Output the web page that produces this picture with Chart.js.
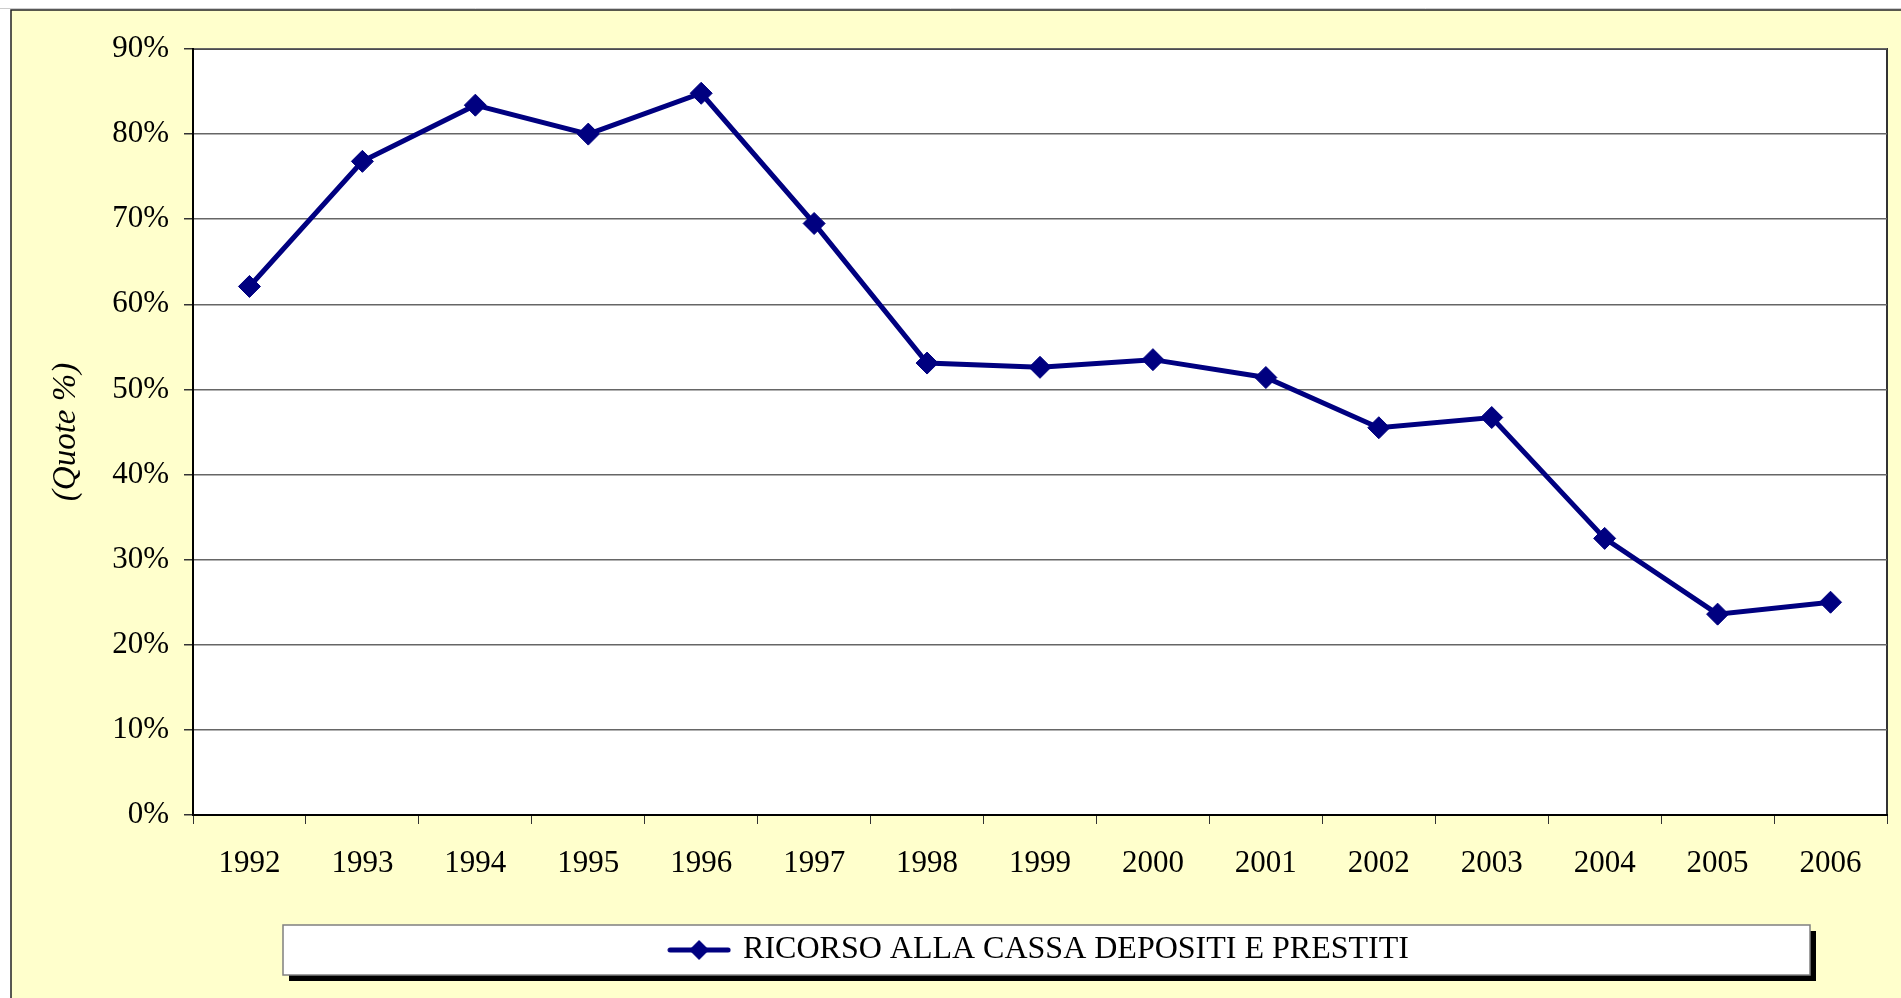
<!DOCTYPE html>
<html>
<head>
<meta charset="utf-8">
<script src="https://cdn.jsdelivr.net/npm/chart.js"></script>
<style>
  body { margin: 0; background: #fff; }
  canvas { display: block; }
</style>
</head>
<body>
<canvas id="graficoCassa" width="1901" height="998"></canvas>
<script>
// dati
let anni = ['1992','1993','1994','1995','1996','1997','1998','1999','2000','2001','2002','2003','2004','2005','2006']
let quote = [62.1, 76.8, 83.4, 80.0, 84.8, 69.5, 53.1, 52.6, 53.5, 51.4, 45.5, 46.7, 32.5, 23.6, 25.0]
let tickY = [0, 10, 20, 30, 40, 50, 60, 70, 80, 90]
let nomeSerie = 'RICORSO ALLA CASSA DEPOSITI E PRESTITI'

const blu = '#000080'
const font = 'Liberation Serif, Times New Roman, serif'

// simbolo della legenda: linea con rombo
const simbolo = document.createElement('canvas')
simbolo.width = 64
simbolo.height = 24
const s = simbolo.getContext('2d')
s.strokeStyle = blu
s.lineWidth = 5
s.lineCap = 'round'
s.beginPath(); s.moveTo(3, 12); s.lineTo(61, 12); s.stroke()
s.fillStyle = blu
s.beginPath(); s.moveTo(32, 2); s.lineTo(42, 12); s.lineTo(32, 22); s.lineTo(22, 12); s.closePath(); s.fill()

// sfondo giallo, area bianca e riquadro della legenda
const sfondo = {
  id: 'sfondo',
  beforeDraw(chart) {
    const c = chart.ctx
    const a = chart.chartArea
    c.save()
    c.fillStyle = '#fff'
    c.fillRect(0, 0, chart.width, chart.height)
    c.fillStyle = '#FFFFCC'
    c.fillRect(11, 10, chart.width - 11, chart.height - 10)
    c.strokeStyle = '#222'
    c.lineWidth = 1.5
    c.beginPath(); c.moveTo(11, chart.height); c.lineTo(11, 10); c.lineTo(chart.width, 10); c.stroke()
    c.strokeStyle = '#ccc'
    c.lineWidth = 1
    c.beginPath(); c.moveTo(0, 8.5); c.lineTo(chart.width, 8.5); c.stroke()

    c.fillStyle = '#fff'
    c.fillRect(a.left, a.top, a.right - a.left, a.bottom - a.top)
    c.strokeStyle = '#333'
    c.lineWidth = 2
    c.strokeRect(a.left, a.top, a.right - a.left, a.bottom - a.top)

    const l = chart.legend
    const yc = l.top + l.options.labels.padding + l.options.labels.font.size / 2
    const x0 = a.left + 90, x1 = a.right - 77
    c.fillStyle = '#000'
    c.fillRect(x0 + 6, yc - 19, x1 - x0, 50)
    c.fillStyle = '#fff'
    c.fillRect(x0, yc - 25, x1 - x0, 50)
    c.strokeStyle = '#808080'
    c.lineWidth = 1.5
    c.strokeRect(x0, yc - 25, x1 - x0, 50)
    c.restore()
  }
}

const ctx = document.getElementById('graficoCassa')
let grafico = new Chart(ctx, {
  type: 'line',
  data: {
    labels: anni,
    datasets: [{
      label: nomeSerie,
      data: quote,
      borderColor: blu,
      backgroundColor: blu,
      borderWidth: 5,
      pointStyle: 'rectRot',
      pointRadius: 11,
      pointBorderWidth: 1,
      pointBackgroundColor: blu,
      pointBorderColor: blu,
      tension: 0
    }]
  },
  options: {
    responsive: false,
    animation: false,
    devicePixelRatio: 1,
    layout: { padding: { left: 11, right: 14, top: 49, bottom: 22 } },
    plugins: {
      tooltip: { enabled: false },
      legend: {
        position: 'bottom',
        fullSize: false,
        labels: {
          color: '#000',
          font: { family: font, size: 32 },
          padding: 11,
          usePointStyle: true,
          pointStyleWidth: 56,
          generateLabels: (chart) => [{
            text: nomeSerie,
            pointStyle: simbolo,
            fillStyle: blu,
            strokeStyle: blu,
            lineWidth: 0,
            hidden: false,
            datasetIndex: 0
          }]
        }
      }
    },
    scales: {
      x: {
        offset: true,
        grid: { offset: true, drawOnChartArea: false, drawTicks: true, tickLength: 9, color: '#333' },
        border: { color: '#000', width: 2 },
        ticks: { color: '#000', font: { family: font, size: 31 }, padding: 21, maxRotation: 0 },
        afterFit: (scale) => { scale.height = 108 }
      },
      y: {
        min: 0,
        max: 90,
        afterBuildTicks: (scale) => { scale.ticks = tickY.map(v => ({ value: v })) },
        grid: { color: '#666', lineWidth: 1.5, tickLength: 9, tickColor: '#333' },
        border: { color: '#000', width: 2 },
        ticks: {
          color: '#000',
          font: { family: font, size: 31 },
          padding: 15,
          callback: (v) => v + '%'
        },
        title: {
          display: true,
          text: '(Quote %)',
          color: '#000',
          font: { family: font, size: 33, style: 'italic' },
          padding: { top: 36, bottom: 0 }
        },
        afterFit: (scale) => { scale.width = 182 }
      }
    }
  },
  plugins: [sfondo]
});
</script>
</body>
</html>
